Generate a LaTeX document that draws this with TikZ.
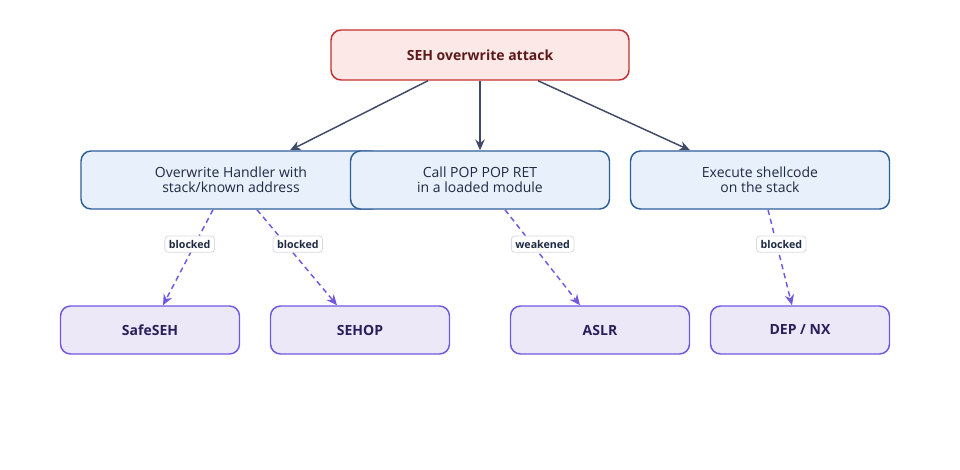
\documentclass[tikz,border=0pt]{standalone}
\usepackage{fontspec}
\setmainfont{Open Sans}
\usetikzlibrary{arrows.meta,positioning,calc}
\definecolor{attackfill}{HTML}{FDE8E8}
\definecolor{attackline}{HTML}{C62F2F}
\definecolor{attacktext}{HTML}{5C1A1A}
\definecolor{stepfill}{HTML}{E8F1FB}
\definecolor{stepline}{HTML}{2F5F9A}
\definecolor{steptext}{HTML}{1F2A44}
\definecolor{guardfill}{HTML}{ECE8F8}
\definecolor{guardline}{HTML}{7457E0}
\definecolor{guardtext}{HTML}{2A1F5A}
\definecolor{edgegray}{HTML}{3F4A66}
\definecolor{tagline}{HTML}{D8DAE6}

\begin{document}
\begin{tikzpicture}[x=0.75pt,y=-0.75pt,
  attackbox/.style={draw=attackline,fill=attackfill,text=attacktext,line width=1.1pt,rounded corners=7.5pt,
    minimum width=298*0.75pt,minimum height=50*0.75pt,font=\fontsize{10.5}{12}\selectfont\bfseries},
  stepbox/.style={draw=stepline,fill=stepfill,text=steptext,line width=1.1pt,rounded corners=7.5pt,
    minimum height=58*0.75pt,align=center,font=\fontsize{10.5}{11.3}\selectfont},
  guardbox/.style={draw=guardline,fill=guardfill,text=guardtext,line width=1.1pt,rounded corners=7.5pt,
    minimum width=179*0.75pt,minimum height=48*0.75pt,font=\fontsize{10.5}{12}\selectfont\bfseries},
  solidedge/.style={draw=edgegray,line width=1.1pt,-{Stealth[length=8pt,width=7pt]}},
  guardedge/.style={draw=guardline,line width=1.1pt,dash pattern=on 4pt off 3pt,-{Stealth[length=8pt,width=7pt]}},
  tag/.style={draw=tagline,fill=white,text=steptext,rounded corners=2.5pt,line width=0.6pt,solid,pos=0.36,
    inner sep=3pt,font=\fontsize{8}{9}\selectfont\bfseries}]
\useasboundingbox (0,0) rectangle (960,470);
% attack
\node[attackbox] (attack) at (480,55) {SEH overwrite attack};
% steps
\node[stepbox,minimum width=300*0.75pt] (handler) at (231,180) {Overwrite Handler with\\stack/known address};
\node[stepbox,minimum width=259*0.75pt] (poppop) at (480,180) {Call POP POP RET\\in a loaded module};
\node[stepbox,minimum width=259*0.75pt] (shell) at (760,180) {Execute shellcode\\on the stack};
% mitigations
\node[guardbox] (safeseh) at (150,330) {SafeSEH};
\node[guardbox] (sehop) at (360,330) {SEHOP};
\node[guardbox] (aslr) at (600,330) {ASLR};
\node[guardbox] (depnx) at (800,330) {DEP / NX};
% attack steps
\draw[solidedge] ([xshift=-52*0.75pt]attack.south) -- ([xshift=59*0.75pt]handler.north);
\draw[solidedge] (attack.south) -- (poppop.north);
\draw[solidedge] ([xshift=58*0.75pt]attack.south) -- ([xshift=-70*0.75pt]shell.north);
% mitigations
\draw[guardedge] ([xshift=-18*0.75pt]handler.south) -- node[tag,xshift=-4pt] {blocked} ([xshift=13*0.75pt]safeseh.north);
\draw[guardedge] ([xshift=26*0.75pt]handler.south) -- node[tag,xshift=9pt] {blocked} ([xshift=-23*0.75pt]sehop.north);
\draw[guardedge] ([xshift=25*0.75pt]poppop.south) -- node[tag,xshift=8pt] {weakened} ([xshift=-20*0.75pt]aslr.north);
\draw[guardedge] ([xshift=8*0.75pt]shell.south) -- node[tag,xshift=3.5pt] {blocked} ([xshift=-8*0.75pt]depnx.north);
\end{tikzpicture}
\end{document}
